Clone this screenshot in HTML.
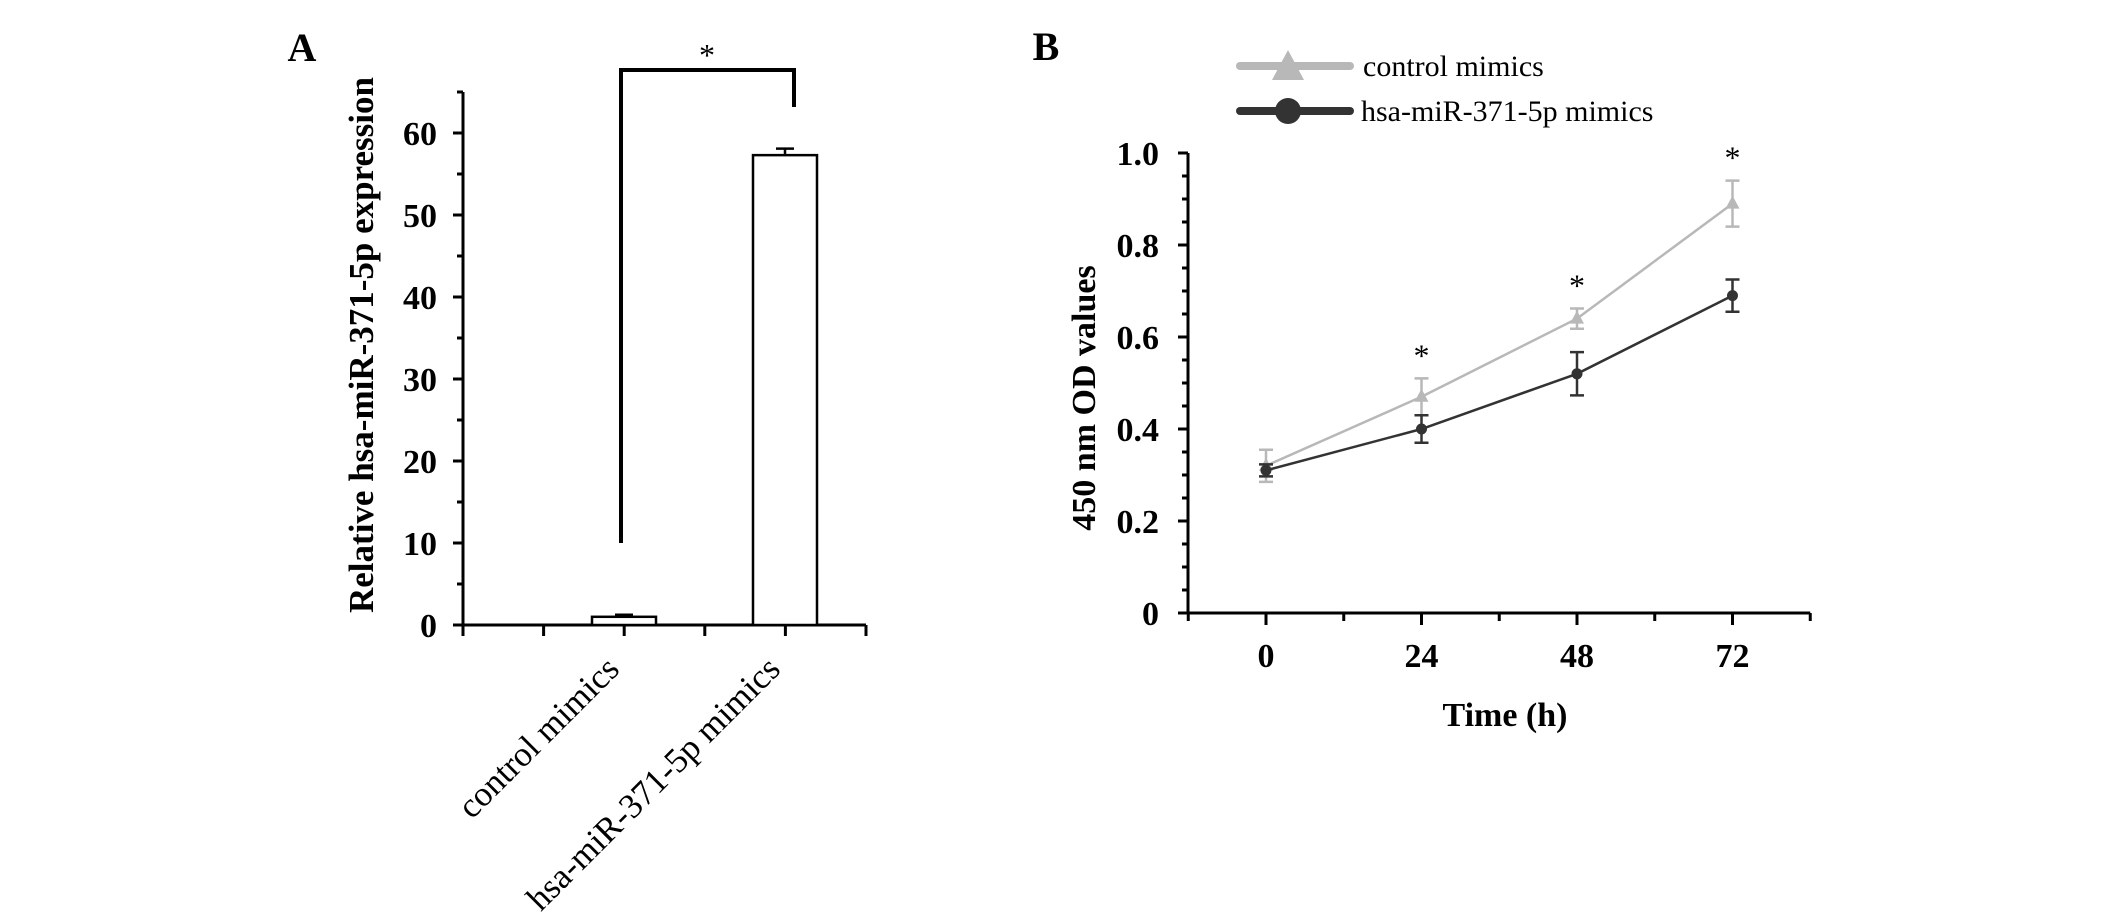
<!DOCTYPE html>
<html><head><meta charset="utf-8"><style>
html,body{margin:0;padding:0;background:#fff;}
svg{display:block;font-family:"Liberation Serif",serif;}
</style></head><body>
<svg id="chart" width="2126" height="913" viewBox="0 0 2126 913" xmlns="http://www.w3.org/2000/svg">
<g id="panelA"></g>
<g id="panelB"></g>
</svg>
<script>
// Panel A data
const barCategories = ["control mimics", "hsa-miR-371-5p mimics"];
const barValues = [1.0, 57.3];
const barErrors = [0.25, 0.8];
const aTicks = [0, 10, 20, 30, 40, 50, 60];
// Panel B data
const timePoints = [0, 24, 48, 72];
const controlValues = [0.32, 0.47, 0.64, 0.89];
const controlErrors = [0.035, 0.04, 0.022, 0.05];
const mirValues = [0.31, 0.40, 0.52, 0.69];
const mirErrors = [0.013, 0.03, 0.047, 0.035];
const bTicks = [0, 0.2, 0.4, 0.6, 0.8, 1.0];
const bTickLabels = ["0", "0.2", "0.4", "0.6", "0.8", "1.0"];
const xTickLabels = ["0", "24", "48", "72"];
const sigPoints = [24, 48, 72];

const NS = "http://www.w3.org/2000/svg";
function mk(parent, tag, attrs, text) {
  const e = document.createElementNS(NS, tag);
  for (const k in attrs) e.setAttribute(k, attrs[k]);
  if (text !== undefined) e.textContent = text;
  parent.appendChild(e);
  return e;
}

// ---------- Panel A ----------
const A = document.getElementById("panelA");
const aX0 = 463, aY0 = 625, aPx = 8.2;
const ay = v => aY0 - v * aPx;
const aCenters = [624, 785];
const aBarW = 64;

let t = mk(A, "text", {x: 302, y: 61, "font-size": 40, "font-weight": "bold", "text-anchor": "middle"}, "A");



let axisA = mk(A, "path", {d: `M${aX0} ${ay(65)} V${aY0} H866`, stroke: "#000", "stroke-width": 3, fill: "none"});



for (let v = 0; v <= 65; v += 5) {
  const major = v % 10 === 0;
  const tk = mk(A, "line", {x1: aX0 - (major ? 10 : 6), x2: aX0, y1: ay(v), y2: ay(v), stroke: "#000", "stroke-width": 3});
  
  
}
aTicks.forEach(v => {
  const l = mk(A, "text", {x: 437, y: ay(v) + 12, "font-size": 34, "font-weight": "bold", "text-anchor": "end"}, String(v));
  
  
});
for (let i = 0; i <= 5; i++) {
  const x = aX0 + i * 80.6;
  const tk = mk(A, "line", {x1: x, x2: x, y1: aY0, y2: aY0 + 11, stroke: "#000", "stroke-width": 3});
  
  
}
let yt = mk(A, "text", {x: 0, y: 0, transform: "translate(373,345) rotate(-90)", "font-size": 35, "font-weight": "bold", "text-anchor": "middle"}, "Relative hsa-miR-371-5p expression");



barValues.forEach((v, i) => {
  const cx = aCenters[i];
  const b = mk(A, "rect", {x: cx - aBarW / 2, y: ay(v), width: aBarW, height: aY0 - ay(v), fill: "#fff", stroke: "#000", "stroke-width": 2.5});
  
  
  const e = mk(A, "path", {d: `M${cx} ${ay(v)} V${ay(v + barErrors[i])} M${cx - 9} ${ay(v + barErrors[i])} H${cx + 9}`, stroke: "#000", "stroke-width": 2.5, fill: "none"});
  
  
  const lbl = mk(A, "text", {x: 0, y: 0, transform: `translate(${cx - 3},${aY0 + 46}) rotate(-45)`, "font-size": 35, "text-anchor": "end"}, barCategories[i]);
  
  
});
let br = mk(A, "path", {d: `M${aCenters[0] - 3} ${ay(10)} V70 H${aCenters[1] + 9} V107`, stroke: "#000", "stroke-width": 4, fill: "none"});


let st = mk(A, "text", {x: 707, y: 66, "font-size": 32, "text-anchor": "middle"}, "*");



// ---------- Panel B ----------
const B = document.getElementById("panelB");
const bX0 = 1188, bY0 = 613, bYpx = 460, bXpx = 155.5 / 24, bZeroX = 1266;
const bx = h => bZeroX + h * bXpx;
const by = v => bY0 - v * bYpx;

t = mk(B, "text", {x: 1046, y: 60, "font-size": 40, "font-weight": "bold", "text-anchor": "middle"}, "B");



let axisB = mk(B, "path", {d: `M${bX0} ${by(1.0)} V${bY0} H${bx(84)}`, stroke: "#000", "stroke-width": 3, fill: "none"});


for (let k = 0; k <= 20; k++) {
  const v = k * 0.05;
  const major = k % 4 === 0;
  const tk = mk(B, "line", {x1: bX0 - (major ? 10 : 6), x2: bX0, y1: by(v), y2: by(v), stroke: "#000", "stroke-width": 3});
  
  
}
bTicks.forEach((v, i) => {
  const l = mk(B, "text", {x: 1159, y: by(v) + 12, "font-size": 34, "font-weight": "bold", "text-anchor": "end"}, bTickLabels[i]);
  
  
});
for (let h = -12; h <= 84; h += 12) {
  const major = h % 24 === 0;
  const tk = mk(B, "line", {x1: bx(h), x2: bx(h), y1: bY0, y2: bY0 + (major ? 12 : 8), stroke: "#000", "stroke-width": 3});
  
  
}
timePoints.forEach((h, i) => {
  const l = mk(B, "text", {x: bx(h), y: 667, "font-size": 34, "font-weight": "bold", "text-anchor": "middle"}, xTickLabels[i]);
  
  
});
let xtB = mk(B, "text", {x: 1505, y: 726, "font-size": 34, "font-weight": "bold", "text-anchor": "middle"}, "Time (h)");


let ytB = mk(B, "text", {x: 0, y: 0, transform: "translate(1095,398) rotate(-90)", "font-size": 34, "font-weight": "bold", "text-anchor": "middle"}, "450 nm OD values");



function series(vals, errs, color, width, marker, name) {
  const g = mk(B, "g", {});
  
  
  const pts = vals.map((v, i) => `${bx(timePoints[i])},${by(v)}`).join(" ");
  const ln = mk(g, "polyline", {points: pts, fill: "none", stroke: color, "stroke-width": width});
  
  
  vals.forEach((v, i) => {
    const x = bx(timePoints[i]);
    const e = mk(g, "path", {d: `M${x} ${by(v - errs[i])} V${by(v + errs[i])} M${x - 7} ${by(v - errs[i])} H${x + 7} M${x - 7} ${by(v + errs[i])} H${x + 7}`, stroke: color, "stroke-width": 2.5, fill: "none"});
    
    
    let m;
    if (marker === "tri") {
      const y = by(v);
      m = mk(g, "polygon", {points: `${x},${y - 8} ${x - 7},${y + 5} ${x + 7},${y + 5}`, fill: color});
    } else {
      m = mk(g, "circle", {cx: x, cy: by(v), r: 5.5, fill: color});
    }
    
    
  });
}
series(controlValues, controlErrors, "#b8b8b8", 2.5, "tri", "control-series");
series(mirValues, mirErrors, "#333333", 2.5, "circ", "mir-series");

sigPoints.forEach(h => {
  const i = timePoints.indexOf(h);
  const s = mk(B, "text", {x: bx(h), y: by(controlValues[i] + controlErrors[i]) - 12, "font-size": 32, "text-anchor": "middle"}, "*");
  
  
});

const legend = mk(B, "g", {});


const l1 = mk(legend, "g", {});


mk(l1, "line", {x1: 1240, x2: 1350, y1: 66, y2: 66, stroke: "#b8b8b8", "stroke-width": 8, "stroke-linecap": "round"});
mk(l1, "polygon", {points: "1288,50 1272,80 1304,80", fill: "#b8b8b8"});
mk(l1, "text", {x: 1363, y: 76, "font-size": 30}, "control mimics");
const l2 = mk(legend, "g", {});


mk(l2, "line", {x1: 1240, x2: 1350, y1: 111, y2: 111, stroke: "#333", "stroke-width": 8, "stroke-linecap": "round"});
mk(l2, "circle", {cx: 1288, cy: 111, r: 13, fill: "#333"});
mk(l2, "text", {x: 1361, y: 121, "font-size": 30}, "hsa-miR-371-5p mimics");
</script>
</body></html>
